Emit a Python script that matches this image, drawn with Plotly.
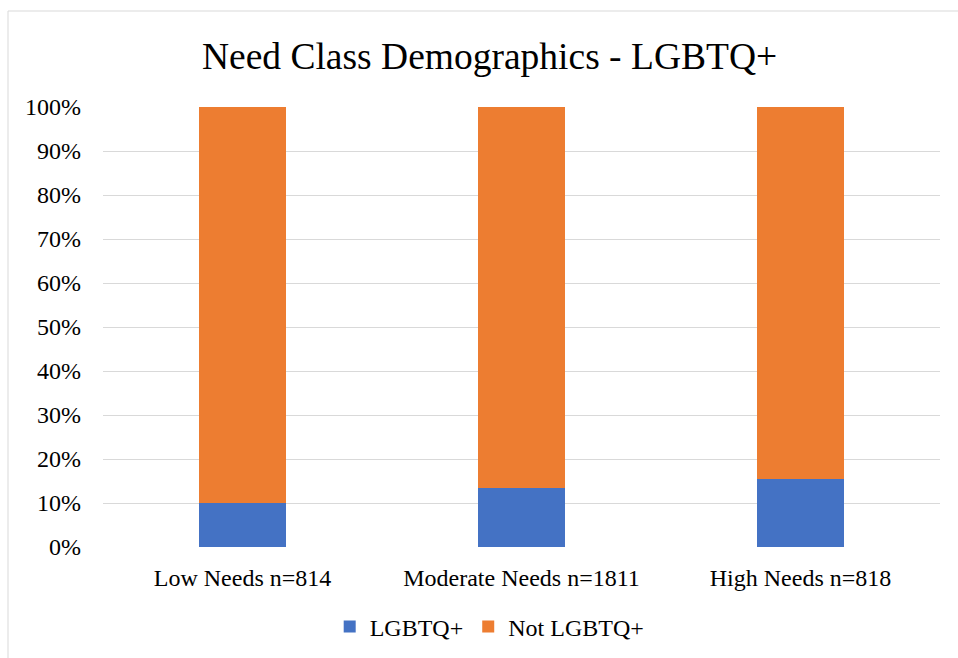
import plotly.graph_objects as go

# Share of respondents in each need class, in percent
categories = ["Low Needs n=814", "Moderate Needs n=1811", "High Needs n=818"]
lgbtq = [10.0, 13.5, 15.5]
not_lgbtq = [90.0, 86.5, 84.5]
y_ticks = [0, 10, 20, 30, 40, 50, 60, 70, 80, 90, 100]
y_tick_labels = [f"{v}%" for v in y_ticks]

FONT = "Liberation Serif"

fig = go.Figure()
fig.add_trace(go.Bar(
    x=categories, y=lgbtq, name="LGBTQ+",
    marker=dict(color="#4472C4", line=dict(width=0)),
))
fig.add_trace(go.Bar(
    x=categories, y=not_lgbtq, name="Not LGBTQ+",
    marker=dict(color="#ED7D31", line=dict(width=0)),
))

fig.update_layout(
    width=958, height=658,
    barmode="stack",
    bargap=0.688,
    paper_bgcolor="white",
    plot_bgcolor="white",
    margin=dict(l=103, r=18, t=107, b=111),
    font=dict(family=FONT, color="black", size=24),
    title=dict(
        text="Need Class Demographics - LGBTQ+",
        font=dict(family=FONT, size=37.5, color="black"),
        x=0.511, xanchor="center",
        y=1 - 56 / 658, yanchor="middle",
    ),
    xaxis=dict(
        showgrid=False, showline=False, zeroline=False,
        tickfont=dict(family=FONT, size=24, color="black"),
        ticklabelstandoff=14,
    ),
    yaxis=dict(
        range=[0, 100],
        tickvals=y_ticks, ticktext=y_tick_labels,
        showgrid=True, gridcolor="#D9D9D9", gridwidth=1,
        zeroline=False, showline=False,
        tickfont=dict(family=FONT, size=24, color="black"),
        ticklabelstandoff=21,
    ),
    legend=dict(
        orientation="h",
        x=0.462, xanchor="center",
        yref="container",
        y=(658 - 627) / 658, yanchor="middle",
        font=dict(family=FONT, size=24, color="black"),
        traceorder="normal",
        itemwidth=30,
    ),
    showlegend=True,
    shapes=[
        dict(
            type="rect", xref="paper", yref="paper",
            x0=(8 - 103) / 837, x1=1.2,
            y0=-0.5, y1=(547 - 11) / 440,
            line=dict(color="#D9D9D9", width=1),
            fillcolor="rgba(0,0,0,0)", layer="below",
        )
    ],
)

fig.write_html("out.html")
